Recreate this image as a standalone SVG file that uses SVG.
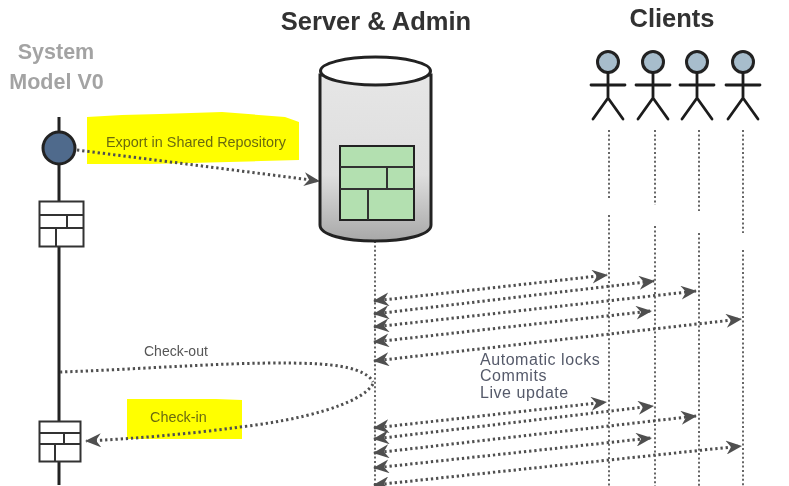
<svg xmlns="http://www.w3.org/2000/svg" width="789" height="486" viewBox="0 0 789 486">
<style>
text{font-family:"Liberation Sans",Arial,sans-serif}
.title{font-size:25.500px;font-weight:bold;fill:#333;text-anchor:middle}
.sys{font-size:21.500px;font-weight:bold;fill:#a3a3a3;text-anchor:middle}
.small{font-size:14px;fill:#555}
.hl{font-size:14.400px;fill:#6b6b10}
.note{font-size:16px;fill:#555a6a;letter-spacing:.55px}
.dot{fill:none;stroke:#505050;stroke-width:3;stroke-dasharray:2.300 2.900}
.life{fill:none;stroke:#666;stroke-width:2;stroke-dasharray:2 2.400}
.brick{fill:#fff;stroke:#333;stroke-width:2}
.brickg{fill:#b3e0b0;stroke:#222;stroke-width:2}
.wall{fill:none;stroke:#333;stroke-width:2}
.limb{fill:none;stroke:#1c1c1c;stroke-width:2.800;stroke-linecap:round}
.head{fill:#a7bdcc;stroke:#222;stroke-width:3}
</style>
<defs>
<linearGradient id="cyl" x1="0" y1="0" x2="0" y2="1">
<stop offset="0" stop-color="#e6e6e6"/><stop offset="0.6" stop-color="#dedede"/><stop offset="1" stop-color="#a8a8a8"/>
</linearGradient>
<marker id="ah" viewBox="0 0 16 14" refX="15" refY="7" markerWidth="16" markerHeight="14" markerUnits="userSpaceOnUse" orient="auto-start-reverse">
<path d="M0 0 L16 7 L0 14 L5 7 Z" fill="#505050"/>
</marker>
<g id="fig"><circle cx="0" cy="0" r="10.500" class="head"/><path class="limb" d="M0 11V36M-17 23H17M0 36L-15 57M0 36L15 57"/></g>
<filter id="soft" x="-2%" y="-2%" width="104%" height="104%"><feGaussianBlur stdDeviation="0.5"/></filter>
</defs>
<rect width="789" height="486" fill="#fff"/>
<g filter="url(#soft)">
<g id="highlights">
<path d="M87 117L122 115L160 114L222 112L285 117L299 122V160L229 162L150 164L87 164Z" fill="#ffff00"/>
<path d="M127 399H216L242 400V439H127Z" fill="#ffff00"/>
</g>
<g id="lifeline-system"><path d="M59 117V485" fill="none" stroke="#222" stroke-width="3"/></g>
<g id="connectors">
<path class="life" d="M375 241V486"/>
<path class="life" d="M609 130V198M609 215V486"/>
<path class="life" d="M655 130V205M655 226V486"/>
<path class="life" d="M699 130V211M699 233V486"/>
<path class="life" d="M743 130V233M743 250V486"/>
<path class="dot" marker-end="url(#ah)" d="M77 150L319 181"/>
<path class="dot" marker-start="url(#ah)" marker-end="url(#ah)" d="M374 301L607 275"/>
<path class="dot" marker-start="url(#ah)" marker-end="url(#ah)" d="M374 314L654 281"/>
<path class="dot" marker-start="url(#ah)" marker-end="url(#ah)" d="M374 327L696 291"/>
<path class="dot" marker-start="url(#ah)" marker-end="url(#ah)" d="M374 342L651 311"/>
<path class="dot" marker-start="url(#ah)" marker-end="url(#ah)" d="M374 361L741 319"/>
<path class="dot" marker-start="url(#ah)" marker-end="url(#ah)" d="M374 428L606 402"/>
<path class="dot" marker-start="url(#ah)" marker-end="url(#ah)" d="M374 439L653 406"/>
<path class="dot" marker-start="url(#ah)" marker-end="url(#ah)" d="M374 453L696 416"/>
<path class="dot" marker-start="url(#ah)" marker-end="url(#ah)" d="M374 468L651 438"/>
<path class="dot" marker-start="url(#ah)" marker-end="url(#ah)" d="M374 485L741 446"/>
<path class="dot" d="M60 372C150 369 250 360 320 364C350 366 368 372 373 382"/>
<path class="dot" marker-end="url(#ah)" d="M373 384C360 405 300 420 240 427C190 434 130 439 86 441"/>
</g>
<g id="server">
<path d="M320 75V225C320 235 345 241 375 241C405 241 431 235 431 225V75Z" fill="url(#cyl)" stroke="#222" stroke-width="3"/>
<ellipse cx="375.500" cy="71" rx="55" ry="14" fill="#fff" stroke="#222" stroke-width="3"/>
<rect class="brickg" x="340" y="146" width="74" height="74"/>
<path class="wall" d="M340 167H414M340 189H414M387 167V189M368 189V220"/>
</g>
<g id="start"><circle cx="59" cy="148" r="16" fill="#4f6a8c" stroke="#222" stroke-width="3"/></g>
<g id="model-1"><rect class="brick" x="39.500" y="201.500" width="44" height="45"/><path class="wall" d="M40 215H83M40 228H83M67 215V228M56 228V246"/></g>
<g id="model-2"><rect class="brick" x="39.500" y="421.500" width="41" height="40"/><path class="wall" d="M40 433H80M40 444H80M64 433V444M55 444V461"/></g>
<g id="clients">
<use href="#fig" x="608" y="62"/>
<use href="#fig" x="653" y="62"/>
<use href="#fig" x="697" y="62"/>
<use href="#fig" x="743" y="62"/>
</g>
<g id="labels">
<text class="title" x="376" y="30">Server &amp; Admin</text>
<text class="title" x="672" y="27">Clients</text>
<text class="sys" x="56" y="59">System</text>
<text class="sys" x="56.500" y="89">Model V0</text>
<text class="hl" x="106" y="147">Export in Shared Repository</text>
<text class="small" x="144" y="356">Check-out</text>
<text class="hl" x="150" y="422">Check-in</text>
<text class="note" x="480" y="365">Automatic locks</text>
<text class="note" x="480" y="380.500">Commits</text>
<text class="note" x="480" y="398">Live update</text>
</g>
</g>
</svg>
